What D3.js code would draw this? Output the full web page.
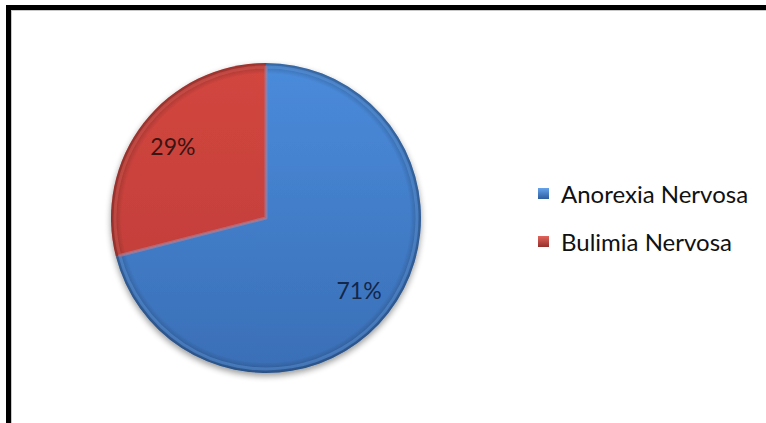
<!DOCTYPE html>
<html>
<head>
<meta charset="utf-8">
<script src="https://cdn.jsdelivr.net/npm/d3@7"></script>
<style>
  html, body { margin: 0; padding: 0; background: #fff; }
  svg { display: block; }
</style>
</head>
<body>
<svg id="chart" width="766" height="423"></svg>
<script>
// Share of eating-disorder cases by diagnosis
const categories = ["Anorexia Nervosa", "Bulimia Nervosa"];
const values = [71, 29];
const percentLabels = ["71%", "29%"];

const colors = {
  "Anorexia Nervosa": { top: "#4a8bdb", bottom: "#3a6fb6", light: "#66a3ec", dark: "#2c5d9e", text: "#13274a" },
  "Bulimia Nervosa":  { top: "#d2463f", bottom: "#bd3c38", light: "#e2645d", dark: "#952f2b", text: "#3b1412" }
};

const W = 766, H = 423;
const cx = 266, cy = 218, R = 155;
const font = "Lato, 'Open Sans', 'DejaVu Sans', sans-serif";

const svg = d3.select("#chart");
const defs = svg.append("defs");

// soft shadow below the pie
const shadow = defs.append("filter").attr("id", "pieShadow")
  .attr("x", "-20%").attr("y", "-20%").attr("width", "140%").attr("height", "140%");
shadow.append("feGaussianBlur").attr("in", "SourceAlpha").attr("stdDeviation", 3).attr("result", "b");
shadow.append("feOffset").attr("in", "b").attr("dx", 0).attr("dy", 3).attr("result", "o");
shadow.append("feComponentTransfer").attr("in", "o").attr("result", "s")
  .append("feFuncA").attr("type", "linear").attr("slope", 0.4);
const merge = shadow.append("feMerge");
merge.append("feMergeNode").attr("in", "s");
merge.append("feMergeNode").attr("in", "SourceGraphic");

// vertical shading per slice: lighter at the top, deeper towards the bottom
categories.forEach((c, i) => {
  const g = defs.append("linearGradient").attr("id", "grad" + i)
    .attr("gradientUnits", "userSpaceOnUse")
    .attr("x1", 0).attr("y1", -R).attr("x2", 0).attr("y2", R);
  g.append("stop").attr("offset", "0%").attr("stop-color", colors[c].top);
  g.append("stop").attr("offset", "100%").attr("stop-color", colors[c].bottom);
});

// darkening towards the rim
const rim = defs.append("radialGradient").attr("id", "rim")
  .attr("gradientUnits", "userSpaceOnUse")
  .attr("cx", 0).attr("cy", 0).attr("r", R);
rim.append("stop").attr("offset", "0%").attr("stop-color", "#000").attr("stop-opacity", 0);
rim.append("stop").attr("offset", "93%").attr("stop-color", "#000").attr("stop-opacity", 0);
rim.append("stop").attr("offset", "100%").attr("stop-color", "#000").attr("stop-opacity", 0.28);

// frame: only top and left edges fall inside the view
svg.append("path")
  .attr("d", `M8.5,${H + 10} L8.5,7.5 L${W + 10},7.5`)
  .attr("fill", "none").attr("stroke", "#000").attr("stroke-width", 5);
svg.append("line").attr("x1", 11).attr("x2", W).attr("y1", 10.5).attr("y2", 10.5)
  .attr("stroke", "#c8c8c8").attr("stroke-width", 1);
svg.append("line").attr("x1", 11.5).attr("x2", 11.5).attr("y1", 11).attr("y2", H)
  .attr("stroke", "#c8c8c8").attr("stroke-width", 1);

const pie = d3.pie().sort(null).value(d => d.value);
const data = categories.map((c, i) => ({ name: c, value: values[i], label: percentLabels[i] }));
const arcs = pie(data);

const arc = d3.arc().innerRadius(0).outerRadius(R);
const bevel = d3.arc().innerRadius(0).outerRadius(R - 4);

const gPie = svg.append("g").attr("transform", `translate(${cx},${cy})`)
  .attr("filter", "url(#pieShadow)");

gPie.selectAll("path.slice").data(arcs).join("path")
  .attr("class", "slice")
  .attr("d", arc)
  .attr("fill", (d, i) => `url(#grad${i})`);

gPie.selectAll("path.rim").data(arcs).join("path")
  .attr("class", "rim")
  .attr("d", arc)
  .attr("fill", "url(#rim)");

// highlight bevel along the slice edges
gPie.selectAll("path.bevel").data(arcs).join("path")
  .attr("class", "bevel")
  .attr("d", bevel)
  .attr("fill", "none")
  .attr("stroke", d => colors[d.data.name].light)
  .attr("stroke-width", 3)
  .attr("stroke-opacity", 0.4)
  .attr("stroke-linejoin", "round");

// percentage labels
const labelArc = d3.arc().innerRadius(R * 0.76).outerRadius(R * 0.76);
svg.append("g").attr("transform", `translate(${cx},${cy})`)
  .selectAll("text").data(arcs).join("text")
  .attr("transform", d => `translate(${labelArc.centroid(d)})`)
  .attr("text-anchor", "middle")
  .attr("dy", "0.4em")
  .attr("font-family", font)
  .attr("font-size", 23)
  .attr("fill", d => colors[d.data.name].text)
  .text(d => d.data.label);

// legend
const legendY = d3.scalePoint().domain(categories).range([203, 251]);
const leg = svg.append("g");
categories.forEach((c, i) => {
  const lg = defs.append("linearGradient").attr("id", "lg" + i)
    .attr("x1", 0).attr("y1", 0).attr("x2", 0).attr("y2", 1);
  lg.append("stop").attr("offset", "0%").attr("stop-color", colors[c].light);
  lg.append("stop").attr("offset", "100%").attr("stop-color", colors[c].dark);
});
const items = leg.selectAll("g").data(categories).join("g")
  .attr("transform", d => `translate(538,${legendY(d)})`);
items.append("rect")
  .attr("x", 0).attr("y", -15).attr("width", 11).attr("height", 11)
  .attr("fill", (d, i) => `url(#lg${i})`);
items.append("text")
  .attr("x", 23).attr("y", 0)
  .attr("font-family", font).attr("font-size", 24)
  .attr("fill", "#111")
  .text(d => d);
</script>
</body>
</html>
